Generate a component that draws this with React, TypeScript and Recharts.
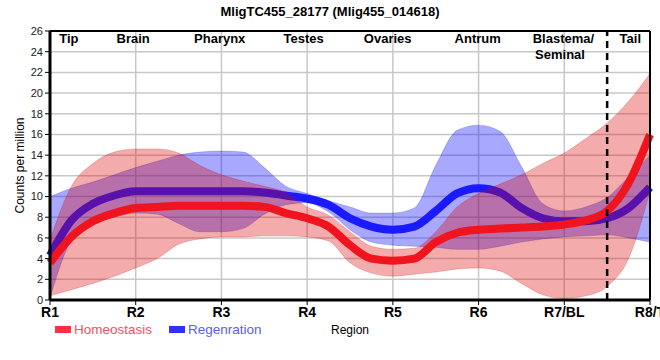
import React from "react";
import {
  ComposedChart,
  Area,
  XAxis,
  YAxis,
  CartesianGrid,
  ReferenceLine,
  ReferenceDot,
} from "recharts";

// sample positions along the body axis (R1 = 1 ... R8/T = 8)
const positions = [
  1, 1.25, 1.5, 1.75, 2, 2.25, 2.5, 2.75, 3, 3.25, 3.5, 3.75, 4, 4.25, 4.5,
  4.75, 5, 5.25, 5.5, 5.75, 6, 6.25, 6.5, 6.75, 7, 7.25, 7.5, 7.75, 8,
];

const homMean = [
  3.6, 6.1, 7.6, 8.4, 8.9, 9.0, 9.1, 9.1, 9.1, 9.1, 9.0, 8.4, 7.9, 7.1, 5.3,
  4.0, 3.8, 4.0, 5.6, 6.5, 6.8, 6.9, 7.0, 7.1, 7.3, 7.7, 8.6, 11.3, 16.0,
];
const homLow = [
  0.4, 1.0, 1.6, 2.3, 3.1, 4.0, 5.4, 5.9, 6.1, 6.1, 6.2, 6.2, 6.1, 5.7, 3.6,
  2.6, 2.3, 2.5, 2.7, 3.0, 3.1, 2.8, 1.6, 0.5, 0.15, 0.4, 1.3, 4.0, 10.5,
];
const homHigh = [
  5.8, 11.0, 13.2, 14.3, 14.6, 14.6, 14.2, 13.0, 12.1, 11.5, 11.0, 10.4, 9.0,
  8.2, 6.6, 5.2, 4.9, 5.0, 6.6, 9.0, 10.3, 11.2, 12.1, 13.2, 14.2, 15.6, 17.1,
  19.2, 21.9,
];

const regMean = [
  4.3, 7.7, 9.3, 10.1, 10.5, 10.5, 10.5, 10.5, 10.5, 10.5, 10.4, 10.1, 9.8,
  9.2, 7.9, 7.1, 6.8, 7.1, 8.6, 10.3, 10.8, 10.4, 8.9, 7.9, 7.6, 7.6, 7.9, 8.9,
  10.9,
];
const regLow = [
  0.2, 5.8, 7.4, 8.0, 8.4, 8.3, 7.4, 6.6, 6.6, 6.9, 8.3, 9.2, 9.4, 8.5, 6.8,
  5.6, 5.3, 5.2, 5.1, 4.9, 4.9, 5.2, 5.6, 5.9, 6.1, 6.2, 6.3, 6.0, 5.6,
];
const regHigh = [
  10.0, 10.8, 11.4, 12.1, 12.8, 13.4, 14.0, 14.3, 14.4, 14.3, 12.8, 11.0, 10.3,
  9.6, 9.0, 8.4, 8.4, 8.9, 13.0, 16.4, 16.9, 16.3, 12.9, 9.3, 8.6, 9.0, 9.9,
  11.9, 14.0,
];

const regionTicks = ["R1", "R2", "R3", "R4", "R5", "R6", "R7/BL", "R8/T"];
const yTicks = [0, 2, 4, 6, 8, 10, 12, 14, 16, 18, 20, 22, 24, 26];

const tissueNames = ["Tip", "Brain", "Pharynx", "Testes", "Ovaries", "Antrum", "Blastema/", "Seminal", "Tail"];
const tissueX = [1.22, 1.97, 2.98, 3.96, 4.94, 5.99, 6.99, 6.95, 7.77];
const tissueY = [25.26, 25.26, 25.26, 25.26, 25.26, 25.26, 25.26, 23.78, 25.26];

const legendItems = [
  { name: "Homeostasis", box: "#ff3040", text: "#ff4a64" },
  { name: "Regenration", box: "#3030ff", text: "#5a5aff" },
];

const rows = positions.map((x, i) => ({
  x,
  homMean: homMean[i],
  regMean: regMean[i],
  homBand: [homLow[i], homHigh[i]],
  regBand: [regLow[i], regHigh[i]],
}));

const sans = "'Liberation Sans', Arial, sans-serif";
const narrow = "'Liberation Sans Narrow', 'Arial Narrow', 'Liberation Sans', sans-serif";

export default function App() {
  return (
    <div style={{ position: "relative", width: 660, height: 360, background: "#fff" }}>
      <style>{"body{margin:0}"}</style>
      <div
        style={{
          position: "absolute",
          top: 4,
          left: 0,
          width: 660,
          textAlign: "center",
          fontFamily: sans,
          fontWeight: "bold",
          fontSize: 13,
          color: "#000",
        }}
      >
        MligTC455_28177 (Mlig455_014618)
      </div>
      <ComposedChart width={660} height={360} data={rows} margin={{ top: 31, right: 10, bottom: 0, left: 0 }}>
        <CartesianGrid stroke="#c8c8c8" strokeWidth={1.5} />
        <XAxis
          dataKey="x"
          type="number"
          domain={[1, 8]}
          ticks={[1, 2, 3, 4, 5, 6, 7, 8]}
          interval={0}
          tickFormatter={(v: number) => regionTicks[v - 1]}
          height={60}
          tickSize={5}
          axisLine={{ stroke: "#000", strokeWidth: 3 }}
          tickLine={{ stroke: "#000" }}
          tick={{ fill: "#000", fontSize: 14, fontWeight: "bold", fontFamily: narrow }}
          label={{ value: "Region", position: "insideBottom", offset: 26, fill: "#000", fontSize: 12, fontFamily: sans }}
        />
        <YAxis
          type="number"
          domain={[0, 26]}
          ticks={yTicks}
          interval={0}
          width={50}
          tickSize={5}
          axisLine={{ stroke: "#000", strokeWidth: 3 }}
          tickLine={{ stroke: "#000" }}
          tick={{ fill: "#222", fontSize: 11, fontFamily: sans }}
          label={{
            value: "Counts per million",
            angle: -90,
            position: "insideLeft",
            offset: 20,
            fill: "#000",
            fontSize: 12,
            fontFamily: sans,
            style: { textAnchor: "middle" },
          }}
        />
        {/* drawing order: blue band, blue mean, red band (tints the blue mean), red mean */}
        <Area
          type="monotone"
          dataKey="regBand"
          fill="rgb(0,0,255)"
          fillOpacity={0.34}
          stroke="rgba(0,0,200,0.2)"
          strokeWidth={1}
          isAnimationActive={false}
        />
        <Area
          type="monotone"
          dataKey="regMean"
          fill="none"
          stroke="#1a1aff"
          strokeWidth={8}
          isAnimationActive={false}
        />
        <Area
          type="monotone"
          dataKey="homBand"
          fill="rgb(220,0,0)"
          fillOpacity={0.33}
          stroke="rgba(200,0,0,0.2)"
          strokeWidth={1}
          isAnimationActive={false}
        />
        <Area
          type="monotone"
          dataKey="homMean"
          fill="none"
          stroke="#f0141e"
          strokeWidth={8}
          isAnimationActive={false}
        />
        <ReferenceLine y={26} stroke="#000" strokeWidth={2} />
        <ReferenceLine x={8} stroke="#000" strokeWidth={2} />
        <ReferenceLine x={7.5} stroke="#000" strokeWidth={2.5} strokeDasharray="7 5" />
        {tissueNames.map((name, i) => (
          <ReferenceDot
            key={name}
            x={tissueX[i]}
            y={tissueY[i]}
            r={1}
            fill="none"
            stroke="none"
            label={{ value: name, position: "center", fill: "#000", fontSize: 13, fontWeight: "bold", fontFamily: sans }}
          />
        ))}
      </ComposedChart>
      <div
        style={{
          position: "absolute",
          top: 322,
          left: 55,
          display: "flex",
          fontFamily: sans,
          fontSize: 13.5,
        }}
      >
        {legendItems.map((it) => (
          <div key={it.name} style={{ display: "flex", alignItems: "center", marginRight: 17 }}>
            <span style={{ display: "inline-block", width: 16, height: 7, background: it.box, marginRight: 3 }} />
            <span style={{ color: it.text }}>{it.name}</span>
          </div>
        ))}
      </div>
    </div>
  );
}
